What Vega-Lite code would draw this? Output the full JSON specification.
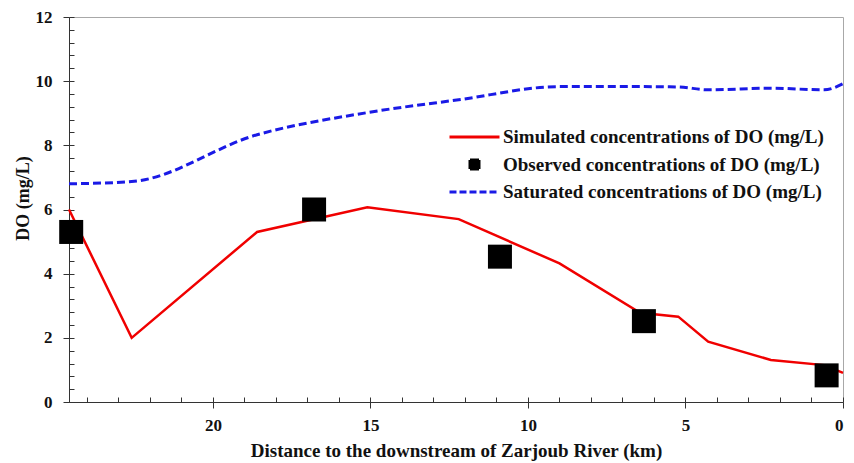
{
  "$schema": "https://vega.github.io/schema/vega-lite/v6.json",
  "width": 774,
  "height": 385,
  "autosize": {"type": "none"},
  "padding": {"left": 69, "top": 17, "right": 11, "bottom": 61},
  "background": "white",
  "config": {
    "view": {"stroke": "#a8a8a8", "strokeWidth": 1},
    "font": "Liberation Serif",
    "axis": {
      "labelFont": "Liberation Serif", "labelFontWeight": "bold", "labelColor": "#111",
      "titleFont": "Liberation Serif", "titleFontWeight": "bold", "titleColor": "#111",
      "grid": false, "tickColor": "#333", "domainColor": "#333"
    },
    "legend": {"labelFont": "Liberation Serif", "labelFontWeight": "bold"}
  },
  "datasets": {
    "sim": [
      {"km": 24.57, "do": 6.0, "series": "Simulated concentrations of DO (mg/L)"},
      {"km": 22.58, "do": 2.0, "series": "Simulated concentrations of DO (mg/L)"},
      {"km": 18.6, "do": 5.3, "series": "Simulated concentrations of DO (mg/L)"},
      {"km": 15.1, "do": 6.07, "series": "Simulated concentrations of DO (mg/L)"},
      {"km": 12.2, "do": 5.7, "series": "Simulated concentrations of DO (mg/L)"},
      {"km": 9.0, "do": 4.32, "series": "Simulated concentrations of DO (mg/L)"},
      {"km": 6.44, "do": 2.78, "series": "Simulated concentrations of DO (mg/L)"},
      {"km": 5.23, "do": 2.66, "series": "Simulated concentrations of DO (mg/L)"},
      {"km": 4.28, "do": 1.88, "series": "Simulated concentrations of DO (mg/L)"},
      {"km": 2.29, "do": 1.31, "series": "Simulated concentrations of DO (mg/L)"},
      {"km": 0.6, "do": 1.15, "series": "Simulated concentrations of DO (mg/L)"},
      {"km": 0.0, "do": 0.91, "series": "Simulated concentrations of DO (mg/L)"}
    ],
    "obs": [
      {"km": 24.5, "do": 5.3, "series": "Observed concentrations of DO (mg/L)"},
      {"km": 16.79, "do": 6.0, "series": "Observed concentrations of DO (mg/L)"},
      {"km": 10.89, "do": 4.53, "series": "Observed concentrations of DO (mg/L)"},
      {"km": 6.32, "do": 2.52, "series": "Observed concentrations of DO (mg/L)"},
      {"km": 0.52, "do": 0.83, "series": "Observed concentrations of DO (mg/L)"}
    ],
    "sat": [
      {"km": 24.57, "do": 6.8, "series": "Saturated concentrations of DO (mg/L)"},
      {"km": 22.58, "do": 6.87, "series": "Saturated concentrations of DO (mg/L)"},
      {"km": 18.6, "do": 8.33, "series": "Saturated concentrations of DO (mg/L)"},
      {"km": 15.1, "do": 9.02, "series": "Saturated concentrations of DO (mg/L)"},
      {"km": 12.2, "do": 9.42, "series": "Saturated concentrations of DO (mg/L)"},
      {"km": 9.0, "do": 9.83, "series": "Saturated concentrations of DO (mg/L)"},
      {"km": 6.44, "do": 9.83, "series": "Saturated concentrations of DO (mg/L)"},
      {"km": 5.23, "do": 9.82, "series": "Saturated concentrations of DO (mg/L)"},
      {"km": 4.28, "do": 9.73, "series": "Saturated concentrations of DO (mg/L)"},
      {"km": 2.29, "do": 9.78, "series": "Saturated concentrations of DO (mg/L)"},
      {"km": 0.6, "do": 9.73, "series": "Saturated concentrations of DO (mg/L)"},
      {"km": 0.0, "do": 9.92, "series": "Saturated concentrations of DO (mg/L)"}
    ]
  },
  "layer": [
    {
      "data": {"name": "sim"},
      "mark": {"type": "line", "strokeWidth": 2.5},
      "encoding": {
        "x": {
          "field": "km", "type": "quantitative",
          "scale": {"domain": [0, 24.57], "reverse": true, "nice": false, "zero": false},
          "axis": {
            "orient": "bottom",
            "values": [0, 5, 10, 15, 20],
            "title": "Distance to the downstream of Zarjoub River (km)",
            "tickSize": 6,
            "labelFontSize": 17, "labelPadding": 9,
            "titleFontSize": 19, "titlePadding": 8
          }
        },
        "y": {
          "field": "do", "type": "quantitative",
          "scale": {"domain": [0, 12], "nice": false},
          "axis": {
            "orient": "left",
            "values": [0, 2, 4, 6, 8, 10, 12],
            "title": "DO (mg/L)",
            "tickSize": 6,
            "labelFontSize": 17, "labelPadding": 11,
            "titleFontSize": 18, "titlePadding": 3, "titleY": 181
          }
        },
        "color": {
          "field": "series", "type": "nominal",
          "scale": {
            "domain": ["Simulated concentrations of DO (mg/L)", "Observed concentrations of DO (mg/L)", "Saturated concentrations of DO (mg/L)"],
            "range": ["#f00000", "#000000", "#1a1ae6"]
          },
          "legend": {
            "orient": "none", "legendX": 379, "legendY": 110, "title": null, "padding": 0,
            "labelFontSize": 19, "labelColor": "#111", "labelLimit": 0,
            "symbolSize": 2500, "clipHeight": 20, "rowPadding": 7.5, "labelOffset": 2, "symbolStrokeWidth": 3,
            "encode": {
              "symbols": {
                "update": {
                  "shape": {"signal": "datum.value == 'Observed concentrations of DO (mg/L)' ? 'square' : 'stroke'"},
                  "size": {"signal": "datum.value == 'Observed concentrations of DO (mg/L)' ? 81 : 2500"},
                  "fill": {"signal": "datum.value == 'Observed concentrations of DO (mg/L)' ? '#000000' : 'transparent'"},
                  "stroke": {"signal": "datum.value == 'Simulated concentrations of DO (mg/L)' ? '#f00000' : (datum.value == 'Saturated concentrations of DO (mg/L)' ? '#1a1ae6' : '#000000')"},
                  "strokeDash": {"signal": "datum.value == 'Saturated concentrations of DO (mg/L)' ? [7, 3] : [1, 0]"},
                  "strokeJoin": {"value": "miter"},
                  "strokeWidth": {"value": 3},
                  "opacity": {"value": 1}
                }
              }
            }
          }
        }
      }
    },
    {
      "data": {"name": "sat"},
      "mark": {"type": "line", "strokeWidth": 3, "strokeDash": [8, 4], "interpolate": "monotone"},
      "encoding": {
        "x": {"field": "km", "type": "quantitative", "axis": null},
        "y": {"field": "do", "type": "quantitative", "axis": null},
        "color": {"field": "series", "type": "nominal"}
      }
    },
    {
      "data": {"name": "obs"},
      "mark": {"type": "square", "size": 576, "opacity": 1},
      "encoding": {
        "x": {
          "field": "km", "type": "quantitative",
          "axis": {
            "orient": "bottom",
            "values": [0,1,2,3,4,5,6,7,8,9,10,11,12,13,14,15,16,17,18,19,20,21,22,23,24],
            "title": null, "labels": false, "domain": false,
            "tickSize": -5
          }
        },
        "y": {
          "field": "do", "type": "quantitative",
          "axis": {
            "orient": "left",
            "values": [0,0.4,0.8,1.2,1.6,2,2.4,2.8,3.2,3.6,4,4.4,4.8,5.2,5.6,6,6.4,6.8,7.2,7.6,8,8.4,8.8,9.2,9.6,10,10.4,10.8,11.2,11.6,12],
            "title": null, "labels": false, "domain": false,
            "tickSize": -5
          }
        },
        "color": {"field": "series", "type": "nominal"}
      }
    }
  ],
  "resolve": {"axis": {"x": "independent", "y": "independent"}}
}
